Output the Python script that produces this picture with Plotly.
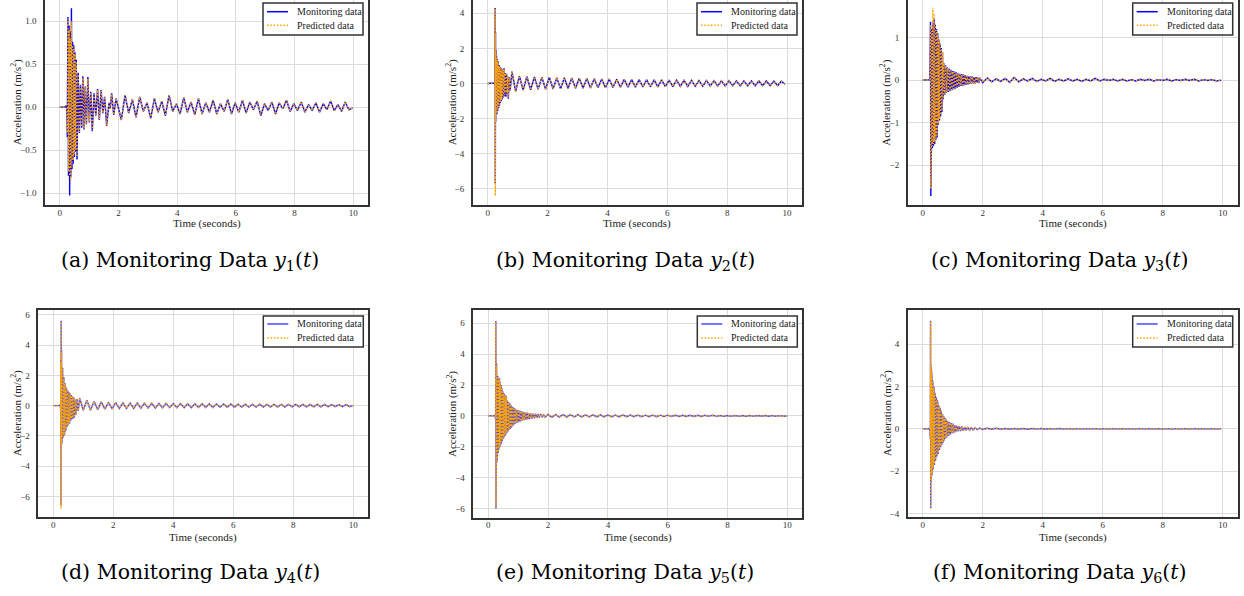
import plotly.graph_objects as go
from plotly.subplots import make_subplots

# ---------------- data ----------------
# Each panel: head segment (explicit times, monitoring / predicted values),
# then an evenly sampled tail (start time, sampling step, values) shared by both series.

T1 = [0.00, 0.18, 0.21, 0.24, 0.26, 0.28, 0.30, 0.32, 0.34, 0.36, 0.38, 0.40, 0.42, 0.44, 0.46, 0.48,
      0.50, 0.52, 0.54, 0.565, 0.59, 0.63, 0.67, 0.71, 0.75, 0.79, 0.83, 0.87, 0.91, 0.96, 1.01, 1.06,
      1.11, 1.17, 1.23, 1.29, 1.35, 1.41, 1.47, 1.53, 1.60, 1.68, 1.72, 1.77, 1.84, 1.92]
M1 = [0.00, 0.00, 0.02, -0.01, -0.35, 1.05, -0.80, 0.95, -1.03, 0.88, -0.82, 1.15, -0.72, 0.76, -0.66, 0.72,
      -0.58, 0.64, -0.52, 0.55, -0.61, 0.40, -0.30, 0.26, -0.24, 0.36, -0.26, 0.24, -0.20, 0.35, -0.18, 0.18,
      -0.28, 0.16, -0.10, 0.21, -0.15, 0.20, -0.07, 0.12, -0.22, 0.05, -0.02, 0.16, -0.09, 0.10]
P1 = [0.00, 0.00, 0.02, -0.01, -0.30, 1.03, -0.75, 0.90, -0.80, 0.80, -0.85, 1.00, -0.68, 0.72, -0.62, 0.68,
      -0.55, 0.62, -0.50, 0.53, -0.58, 0.38, -0.29, 0.25, -0.23, 0.34, -0.25, 0.23, -0.19, 0.33, -0.17, 0.17,
      -0.27, 0.15, -0.10, 0.20, -0.14, 0.19, -0.07, 0.12, -0.21, 0.05, -0.02, 0.15, -0.09, 0.10]
TAIL1_START, TAIL1_STEP = 2.1, 0.125
TAIL1 = [-0.15, 0.14, -0.07, 0.09, -0.12, 0.12, -0.05, 0.05, -0.13, 0.10, -0.06, 0.07, -0.10, 0.14, -0.05, 0.04,
         -0.08, 0.11, -0.06, 0.06, -0.09, 0.10, -0.08, 0.05, -0.06, 0.08, -0.08, 0.04, -0.05, 0.09, -0.08, 0.05,
         -0.06, 0.08, -0.07, 0.06, -0.03, 0.07, -0.10, 0.04, -0.04, 0.06, -0.08, 0.05, -0.02, 0.08, -0.05, 0.04,
         -0.04, 0.06, -0.06, 0.03, -0.04, 0.05, -0.06, 0.04, -0.03, 0.07, -0.04, 0.03, -0.05, 0.06, -0.03, -0.01]

T2 = [0.00, 0.20, 0.235, 0.245, 0.250, 0.256, 0.262, 0.268, 0.275, 0.285, 0.295, 0.305, 0.32, 0.335, 0.35, 0.365,
      0.38, 0.395, 0.41, 0.425, 0.44, 0.455, 0.47, 0.49, 0.51, 0.53, 0.55, 0.57, 0.59, 0.61, 0.63, 0.65,
      0.67, 0.69, 0.72, 0.75]
M2 = [0.00, 0.00, 0.03, -0.10, 4.30, -5.70, 2.95, -2.20, 1.90, -1.85, 1.55, -1.75, 1.40, -1.55, 1.25, -1.40,
      1.05, -1.25, 0.95, -1.10, 0.90, -1.00, 0.85, -0.90, 0.80, -0.80, 0.87, -0.70, 0.60, -0.75, 0.55, -0.60,
      0.40, -0.87, 0.35, -0.40]
P2 = [0.00, 0.00, 0.03, -0.10, 4.25, -6.40, 2.85, -2.10, 1.85, -1.80, 1.50, -1.70, 1.35, -1.50, 1.20, -1.35,
      1.00, -1.20, 0.92, -1.05, 0.88, -0.95, 0.83, -0.85, 0.78, -0.75, 0.82, -0.65, 0.58, -0.62, 0.52, -0.55,
      0.40, -0.80, 0.34, -0.38]
TAIL2_START, TAIL2_STEP = 0.81, 0.125
TAIL2 = [0.68, -0.45, 0.42, -0.38, 0.40, -0.36, 0.37, -0.34, 0.36, -0.33,
         0.35, -0.32, 0.33, -0.31, 0.32, -0.29, 0.31, -0.28, 0.29, -0.27,
         0.28, -0.26, 0.27, -0.25, 0.26, -0.24, 0.25, -0.23, 0.24, -0.22,
         0.23, -0.21, 0.22, -0.21, 0.22, -0.20, 0.21, -0.19, 0.20, -0.19,
         0.20, -0.18, 0.19, -0.18, 0.19, -0.17, 0.18, -0.17, 0.18, -0.16,
         0.17, -0.16, 0.17, -0.15, 0.16, -0.15, 0.16, -0.15, 0.16, -0.14,
         0.15, -0.14, 0.15, -0.14, 0.15, -0.13, 0.14, -0.13, 0.14, -0.13,
         0.14, -0.12, 0.13, -0.05]

T3 = [0.00, 0.20, 0.24, 0.26, 0.27, 0.28, 0.29, 0.30,
      0.32, 0.34, 0.36, 0.38, 0.40, 0.42, 0.44, 0.46, 0.48, 0.50, 0.52, 0.54, 0.56, 0.58, 0.60, 0.62, 0.64,
      0.66, 0.68, 0.70,
      0.73, 0.76, 0.79, 0.82, 0.85, 0.88, 0.91, 0.94, 0.97, 1.00, 1.03, 1.06, 1.09, 1.12, 1.15, 1.18, 1.21,
      1.24, 1.27, 1.30, 1.33, 1.36, 1.39, 1.42, 1.45, 1.48, 1.51, 1.54, 1.57, 1.60, 1.63, 1.66, 1.69, 1.72,
      1.75, 1.78, 1.81, 1.84, 1.87, 1.90]
M3 = [0.00, 0.00, 0.01, 1.37, -2.72, 1.10, -1.65, 1.20,
      -1.60, 1.35, -1.55, 1.45, -1.50, 1.30, -1.40, 1.20, -1.35, 1.10, -1.05, 0.95, -0.95, 0.85, -0.85, 0.75,
      -0.75, 0.65, -0.45, 0.40,
      -0.35, 0.35, -0.30, 0.30, -0.28, 0.27, -0.26, 0.24, -0.24, 0.21, -0.22, 0.20, -0.20, 0.18, -0.18, 0.16,
      -0.16, 0.15, -0.14, 0.14, -0.13, 0.13, -0.12, 0.12, -0.11, 0.10, -0.10, 0.09, -0.09, 0.09, -0.08, 0.08,
      -0.08, 0.07, -0.08, 0.07, -0.06, 0.06, -0.07, 0.05]
P3 = [0.00, 0.00, 0.01, 1.30, -2.55, 1.05, -1.60, 1.15,
      -1.55, 1.70, -1.50, 1.55, -1.45, 1.32, -1.38, 1.18, -1.30, 1.08, -1.02, 0.95, -0.92, 0.84, -0.82, 0.74,
      -0.72, 0.66, -0.44, 0.40,
      -0.34, 0.34, -0.29, 0.29, -0.27, 0.26, -0.25, 0.23, -0.23, 0.20, -0.21, 0.19, -0.19, 0.17, -0.17, 0.15,
      -0.15, 0.14, -0.13, 0.13, -0.12, 0.12, -0.11, 0.11, -0.10, 0.10, -0.09, 0.09, -0.08, 0.08, -0.08, 0.07,
      -0.07, 0.07, -0.07, 0.06, -0.06, 0.06, -0.06, 0.05]
TAIL3_START, TAIL3_STEP = 2.0, 0.15
TAIL3 = [-0.06, 0.05, -0.04, 0.03, -0.03, 0.04, -0.05, 0.06, -0.04, 0.03,
         -0.02, 0.04, -0.03, 0.02, -0.02, 0.04, -0.03, 0.02, -0.02, 0.03,
         -0.02, 0.02, -0.03, 0.02, -0.02, 0.04, -0.02, 0.02, -0.01, 0.02,
         -0.02, 0.02, -0.02, 0.01, -0.02, 0.02, -0.01, 0.02, -0.02, 0.01,
         -0.01, 0.02, -0.02, 0.01, -0.01, 0.02, -0.01, 0.02, -0.02, 0.01,
         -0.01, 0.01, -0.02, 0.00]

T4 = [0.00, 0.20, 0.235, 0.245, 0.250, 0.255, 0.262, 0.268, 0.275, 0.282, 0.29, 0.30, 0.31, 0.32, 0.33, 0.34,
      0.35, 0.36, 0.37, 0.38, 0.39, 0.40, 0.41, 0.42, 0.44, 0.46, 0.48, 0.50, 0.52, 0.54, 0.56, 0.58,
      0.60, 0.62, 0.64, 0.66, 0.68, 0.70, 0.73, 0.76, 0.79, 0.83]
M4 = [0.00, 0.00, 0.05, -0.30, 3.00, -6.60, 5.60, -2.70, 3.70, -2.50, 3.20, -2.20, 2.50, -2.10, 2.10, -2.00,
      1.90, -1.95, 1.70, -1.80, 1.50, -1.70, 1.30, -1.58, 1.20, -1.40, 1.00, -1.30, 0.90, -1.20, 0.80, -1.00,
      0.70, -0.90, 0.60, -0.85, 0.55, -0.80, 0.40, -0.60, 0.45, -0.35]
P4 = [0.00, 0.00, 0.05, -0.30, 2.90, -6.80, 5.55, -2.60, 3.60, -2.45, 3.10, -2.15, 2.45, -2.05, 2.05, -1.95,
      1.85, -1.90, 1.65, -1.75, 1.45, -1.65, 1.28, -1.52, 1.15, -1.35, 0.98, -1.25, 0.88, -1.15, 0.78, -0.95,
      0.68, -0.85, 0.58, -0.80, 0.52, -0.75, 0.40, -0.58, 0.44, -0.34]
TAIL4_START, TAIL4_STEP = 0.88, 0.12
TAIL4 = [0.50, -0.30, 0.36, -0.30, 0.28, -0.26, 0.25, -0.23, 0.22, -0.21,
         0.21, -0.20, 0.19, -0.19, 0.18, -0.18, 0.17, -0.17, 0.17, -0.16,
         0.16, -0.16, 0.15, -0.15, 0.15, -0.14, 0.14, -0.14, 0.14, -0.13,
         0.13, -0.13, 0.13, -0.12, 0.12, -0.12, 0.12, -0.12, 0.11, -0.11,
         0.11, -0.11, 0.11, -0.11, 0.10, -0.10, 0.10, -0.10, 0.10, -0.10,
         0.10, -0.09, 0.09, -0.09, 0.09, -0.09, 0.09, -0.09, 0.09, -0.08,
         0.08, -0.08, 0.08, -0.08, 0.08, -0.08, 0.08, -0.08, 0.08, -0.07,
         0.07, -0.07, 0.07, -0.07, 0.07, -0.07, 0.02]

T5 = [0.00, 0.20, 0.235, 0.245, 0.250, 0.254, 0.258, 0.264, 0.270, 0.278, 0.286, 0.295, 0.305, 0.315, 0.325, 0.335,
      0.345, 0.355, 0.365, 0.375, 0.385, 0.395, 0.405, 0.415, 0.425, 0.435, 0.445, 0.455, 0.47, 0.485, 0.50, 0.515,
      0.53, 0.545, 0.56, 0.575, 0.59, 0.605, 0.62, 0.64, 0.66, 0.68, 0.70, 0.72, 0.74, 0.76, 0.78, 0.80,
      0.82, 0.84, 0.86, 0.88, 0.90, 0.93, 0.96, 0.99, 1.02, 1.05, 1.08, 1.11, 1.14, 1.17, 1.20, 1.23,
      1.26, 1.29, 1.32, 1.35, 1.38, 1.42, 1.46, 1.50, 1.54, 1.58, 1.62, 1.66, 1.70, 1.75, 1.80, 1.85, 1.90]
M5 = [0.00, 0.00, 0.05, -0.20, 1.00, 6.15, -6.00, 3.80, -3.30, 3.40, -3.00, 2.90, -2.60, 2.60, -2.40, 2.50,
      -2.20, 2.40, -2.10, 2.45, -2.00, 2.20, -1.90, 2.10, -1.80, 2.00, -1.74, 1.80, -1.60, 1.60, -1.50, 1.50,
      -1.40, 1.40, -1.30, 1.30, -1.20, 1.31, -1.10, 1.00, -1.00, 0.90, -0.90, 0.80, -0.85, 0.70, -0.75, 0.60,
      -0.65, 0.55, -0.55, 0.50, -0.50, 0.42, -0.45, 0.38, -0.40, 0.35, -0.35, 0.30, -0.30, 0.27, -0.28, 0.24,
      -0.25, 0.21, -0.22, 0.19, -0.20, 0.17, -0.17, 0.15, -0.15, 0.14, -0.13, 0.12, -0.11, 0.12, -0.09, 0.09,
      -0.08]
P5 = [0.00, 0.00, 0.05, -0.20, 0.90, 6.10, -5.90, 3.70, -3.20, 3.30, -2.90, 2.80, -2.55, 2.55, -2.35, 2.45,
      -2.15, 2.35, -2.05, 2.40, -1.95, 2.15, -1.85, 2.05, -1.75, 1.95, -1.70, 1.75, -1.55, 1.55, -1.45, 1.45,
      -1.35, 1.35, -1.25, 1.25, -1.15, 1.25, -1.05, 0.98, -0.95, 0.88, -0.86, 0.78, -0.80, 0.68, -0.72, 0.58,
      -0.62, 0.53, -0.52, 0.48, -0.48, 0.41, -0.43, 0.37, -0.38, 0.34, -0.34, 0.29, -0.29, 0.26, -0.27, 0.23,
      -0.24, 0.20, -0.21, 0.18, -0.19, 0.16, -0.16, 0.14, -0.14, 0.13, -0.12, 0.12, -0.10, 0.11, -0.09, 0.08,
      -0.08]
TAIL5_START, TAIL5_STEP = 2.0, 0.125
TAIL5 = [0.10, -0.09, 0.09, -0.08, 0.09, -0.08, 0.08, -0.07, 0.08, -0.07,
         0.07, -0.07, 0.07, -0.06, 0.07, -0.06, 0.06, -0.06, 0.06, -0.06,
         0.06, -0.05, 0.06, -0.05, 0.05, -0.05, 0.05, -0.05, 0.05, -0.05,
         0.05, -0.04, 0.05, -0.04, 0.04, -0.04, 0.04, -0.04, 0.04, -0.04,
         0.04, -0.04, 0.04, -0.03, 0.04, -0.03, 0.03, -0.03, 0.03, -0.03,
         0.03, -0.03, 0.03, -0.03, 0.03, -0.03, 0.03, -0.02, 0.03, -0.02,
         0.02, -0.02, 0.02, -0.02, 0.00]

T6 = [0.00, 0.20, 0.24, 0.255, 0.262, 0.268, 0.275, 0.282, 0.29, 0.298, 0.306, 0.314, 0.322, 0.33, 0.34, 0.35,
      0.36, 0.37, 0.38, 0.39, 0.40, 0.41, 0.42, 0.43, 0.44, 0.45, 0.46, 0.47, 0.48, 0.49, 0.50, 0.52,
      0.54, 0.56, 0.58, 0.60, 0.62, 0.64, 0.66, 0.68, 0.70, 0.72, 0.74, 0.76, 0.78, 0.80, 0.83, 0.86,
      0.89, 0.92, 0.95, 0.98, 1.01, 1.04, 1.07, 1.10, 1.14, 1.18, 1.22, 1.26, 1.30, 1.35, 1.40, 1.45,
      1.50, 1.56, 1.62, 1.68, 1.75, 1.82, 1.90]
M6 = [0.00, 0.00, 0.02, -0.50, 5.10, -3.75, 3.00, -2.50, 2.80, -2.40, 2.50, -2.20, 2.30, -2.00, 2.20, -1.90,
      2.00, -1.80, 1.90, -1.70, 1.70, -1.60, 1.60, -1.50, 1.50, -1.40, 1.40, -1.30, 1.35, -1.25, 1.27, -1.19,
      1.10, -1.00, 1.00, -0.85, 0.85, -0.75, 0.70, -0.65, 0.60, -0.55, 0.52, -0.45, 0.45, -0.40, 0.38, -0.33,
      0.32, -0.27, 0.27, -0.22, 0.25, -0.18, 0.18, -0.15, 0.15, -0.12, 0.13, -0.10, 0.11, -0.09, 0.09, -0.07,
      0.08, -0.06, 0.06, -0.05, 0.05, -0.04, 0.04]
P6 = [0.00, 0.00, 0.02, -0.45, 5.05, -3.70, 2.90, -2.45, 2.75, -2.35, 2.45, -2.15, 2.25, -1.95, 2.15, -1.85,
      1.95, -1.75, 1.85, -1.65, 1.65, -1.55, 1.55, -1.45, 1.45, -1.35, 1.35, -1.25, 1.30, -1.20, 1.22, -1.15,
      1.05, -0.96, 0.96, -0.82, 0.82, -0.72, 0.68, -0.62, 0.58, -0.53, 0.50, -0.43, 0.43, -0.38, 0.36, -0.31,
      0.30, -0.26, 0.26, -0.21, 0.23, -0.17, 0.17, -0.14, 0.14, -0.11, 0.12, -0.09, 0.10, -0.08, 0.08, -0.07,
      0.07, -0.06, 0.06, -0.05, 0.05, -0.04, 0.04]
TAIL6_START, TAIL6_STEP = 2.0, 0.15
TAIL6 = [-0.03, 0.03, -0.02, 0.03, -0.02, 0.02, -0.02, 0.02, -0.02, 0.02,
         -0.02, 0.02, -0.01, 0.02, -0.02, 0.01, -0.01, 0.02, -0.01, 0.01,
         -0.01, 0.01, -0.01, 0.01, -0.01, 0.01, -0.01, 0.01, -0.01, 0.01,
         -0.01, 0.01, -0.01, 0.01, -0.01, 0.01, -0.01, 0.01, -0.01, 0.01,
         -0.01, 0.01, -0.01, 0.01, -0.01, 0.01, -0.01, 0.01, -0.01, 0.01,
         -0.01, 0.01, -0.01, 0.00]

CAPTIONS = ["(a) Monitoring Data <i>y</i><sub>1</sub>(<i>t</i>)",
            "(b) Monitoring Data <i>y</i><sub>2</sub>(<i>t</i>)",
            "(c) Monitoring Data <i>y</i><sub>3</sub>(<i>t</i>)",
            "(d) Monitoring Data <i>y</i><sub>4</sub>(<i>t</i>)",
            "(e) Monitoring Data <i>y</i><sub>5</sub>(<i>t</i>)",
            "(f) Monitoring Data <i>y</i><sub>6</sub>(<i>t</i>)"]
X_TICKS = [0, 2, 4, 6, 8, 10]
Y_TICKS = {1: [-1.0, -0.5, 0.0, 0.5, 1.0], 2: [-6, -4, -2, 0, 2, 4], 3: [-2, -1, 0, 1],
           4: [-6, -4, -2, 0, 2, 4, 6], 5: [-6, -4, -2, 0, 2, 4, 6], 6: [-4, -2, 0, 2, 4]}
Y_FMT = {1: ".1f", 2: "d", 3: "d", 4: "d", 5: "d", 6: "d"}

PANELS = {
    1: (T1, M1, P1, TAIL1_START, TAIL1_STEP, TAIL1),
    2: (T2, M2, P2, TAIL2_START, TAIL2_STEP, TAIL2),
    3: (T3, M3, P3, TAIL3_START, TAIL3_STEP, TAIL3),
    4: (T4, M4, P4, TAIL4_START, TAIL4_STEP, TAIL4),
    5: (T5, M5, P5, TAIL5_START, TAIL5_STEP, TAIL5),
    6: (T6, M6, P6, TAIL6_START, TAIL6_STEP, TAIL6),
}

# ---------------- layout geometry (pixels) ----------------
W, H = 1244, 596
BOX = {1: (45.0, 368.0, 0.0, 206.0), 2: (472.7, 802.0, 0.0, 206.0), 3: (907.7, 1237.7, 0.0, 206.0),
       4: (38.3, 368.3, 311.0, 519.0), 5: (473.3, 802.3, 311.0, 519.3), 6: (907.7, 1237.7, 311.0, 519.0)}
Y_RANGE = {1: [-1.143, 1.247], 2: [-6.95, 4.76], 3: [-2.94, 1.88],
           4: [-7.37, 6.32], 5: [-6.58, 6.86], 6: [-4.17, 5.61]}
YTITLE_X = {1: 16.7, 2: 451.7, 3: 886.0, 4: 16.7, 5: 452.3, 6: 886.7}
XTITLE_Y = {1: 224.5, 2: 224.5, 3: 224.5, 4: 539.5, 5: 539.5, 6: 539.5}
CAP_X = {1: 190.0, 2: 625.0, 3: 1059.5, 4: 190.0, 5: 625.0, 6: 1059.5}
CAP_Y = {1: 262.0, 2: 262.0, 3: 262.0, 4: 575.0, 5: 575.0, 6: 575.0}

SERIF = "Liberation Serif"
CAP_FONT = "DejaVu Serif"
BLUE = "#0000ff"
BLUE2 = "rgba(40,40,255,0.85)"
ORANGE = "#ffa500"

fig = make_subplots(rows=2, cols=3)


def build(t_head, v_head, t0, dt, tail):
    t = list(t_head) + [round(t0 + i * dt, 4) for i in range(len(tail))]
    v = list(v_head) + list(tail)
    return t, v


for n in range(1, 7):
    th, mh, ph, t0, dt, tail = PANELS[n]
    row, col = (n - 1) // 3 + 1, (n - 1) % 3 + 1
    tm, vm = build(th, mh, t0, dt, tail)
    tp, vp = build(th, ph, t0, dt, tail)
    mon_color = BLUE if n <= 3 else BLUE2
    fig.add_trace(go.Scatter(x=tm, y=vm, mode="lines", name="Monitoring data", showlegend=False,
                             line=dict(color=mon_color, width=1.4), hoverinfo="skip"), row=row, col=col)
    fig.add_trace(go.Scatter(x=tp, y=vp, mode="lines", name="Predicted data", showlegend=False,
                             line=dict(color=ORANGE, width=1.4, dash="1.5px,1.8px"), hoverinfo="skip"),
                  row=row, col=col)

shapes = []
annotations = []
for n in range(1, 7):
    x0p, x1p, y0p, y1p = BOX[n]
    sfx = "" if n == 1 else str(n)
    xa, ya = "xaxis" + sfx, "yaxis" + sfx
    top_row = n <= 3
    fig.layout[xa].update(
        domain=[x0p / W, x1p / W], range=[-0.5, 10.5], tickvals=X_TICKS,
        showgrid=True, gridcolor="#dcdcdc", gridwidth=1, zeroline=False,
        showline=True, linecolor="#333333", linewidth=1.5, mirror=(not top_row),
        ticks="", ticklabelstandoff=-2,
        tickfont=dict(family=SERIF, size=9, color="#333333"))
    fig.layout[ya].update(
        domain=[1 - y1p / H, 1 - y0p / H], range=Y_RANGE[n], tickvals=Y_TICKS[n], tickformat=Y_FMT[n],
        showgrid=True, gridcolor="#dcdcdc", gridwidth=1, zeroline=False,
        showline=True, linecolor="#333333", linewidth=1.5, mirror=True,
        ticks="", ticklabelstandoff=5,
        tickfont=dict(family=SERIF, size=9, color="#333333"))

    # axis titles
    annotations.append(dict(text="Acceleration (m/s<sup>2</sup>)", xref="paper", yref="paper",
                            x=YTITLE_X[n] / W, y=1 - (y0p + y1p) / 2 / H, textangle=-90,
                            xanchor="center", yanchor="middle", showarrow=False,
                            font=dict(family=SERIF, size=11, color="#222222")))
    annotations.append(dict(text="Time (seconds)", xref="paper", yref="paper",
                            x=(x0p + x1p) / 2 / W, y=1 - XTITLE_Y[n] / H,
                            xanchor="center", yanchor="middle", showarrow=False,
                            font=dict(family=SERIF, size=11, color="#222222")))
    # caption
    annotations.append(dict(text=CAPTIONS[n - 1], xref="paper", yref="paper",
                            x=CAP_X[n] / W, y=1 - CAP_Y[n] / H,
                            xanchor="center", yanchor="middle", showarrow=False,
                            font=dict(family=CAP_FONT, size=20.5, color="#000000")))

    # legend box (drawn inside the axes, top-right)
    xr, yr = "x" + sfx + " domain", "y" + sfx + " domain"
    if top_row:
        btop, bbot, e1, e2 = -3, -35, -11.7, -25.3
    else:
        btop, bbot, e1, e2 = -6, -37, -14, -28
    shapes.append(dict(type="rect", xref=xr, yref=yr, xsizemode="pixel", ysizemode="pixel",
                       xanchor=1, yanchor=1, x0=-105, x1=-5, y0=btop, y1=bbot,
                       line=dict(color="#333333", width=1.5), fillcolor="rgba(255,255,255,0.92)",
                       layer="above"))
    shapes.append(dict(type="line", xref=xr, yref=yr, xsizemode="pixel", ysizemode="pixel",
                       xanchor=1, yanchor=1, x0=-101, x1=-80, y0=e1, y1=e1,
                       line=dict(color=BLUE if top_row else BLUE2, width=1.5), layer="above"))
    shapes.append(dict(type="line", xref=xr, yref=yr, xsizemode="pixel", ysizemode="pixel",
                       xanchor=1, yanchor=1, x0=-101, x1=-80, y0=e2, y1=e2,
                       line=dict(color=ORANGE, width=1.5, dash="1.5px,1.8px"), layer="above"))
    for txt, ey in (("Monitoring data", e1), ("Predicted data", e2)):
        annotations.append(dict(text=txt, xref=xr, yref=yr, x=1, y=1, xshift=-73, yshift=ey,
                                xanchor="left", yanchor="middle", showarrow=False,
                                font=dict(family=SERIF, size=10, color="#222222")))

fig.update_layout(width=W, height=H, autosize=False, margin=dict(l=0, r=0, t=0, b=0),
                  paper_bgcolor="white", plot_bgcolor="white", showlegend=False,
                  shapes=shapes, annotations=annotations)

fig.write_html("out.html")
